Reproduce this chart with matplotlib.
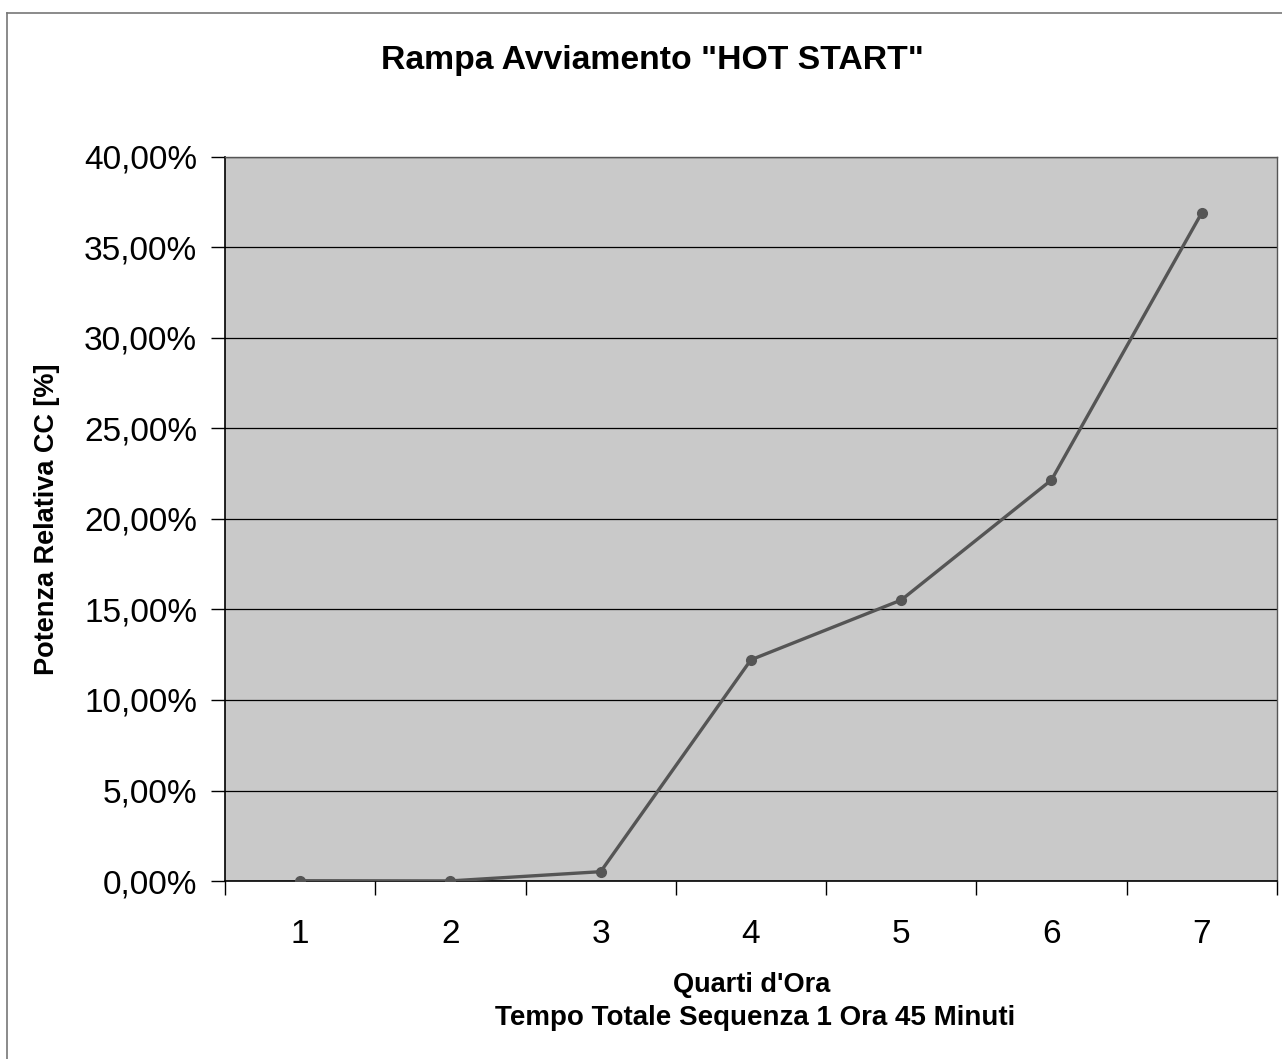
#!/usr/bin/env python3
"""
Rampa avviamento HOT START - potenza relativa per quarto d'ora
"""

import matplotlib
matplotlib.use("Agg")
import matplotlib.pyplot as plt
from matplotlib.lines import Line2D
from matplotlib.ticker import FuncFormatter, FixedLocator

# Dati
quarti = [1, 2, 3, 4, 5, 6, 7]
potenza = [0.0002, 0.0001, 0.0052, 0.1222, 0.1552, 0.2215, 0.3690]
y_ticks = [0.0, 0.05, 0.10, 0.15, 0.20, 0.25, 0.30, 0.35, 0.40]

plt.rcParams['font.family'] = ['Liberation Sans', 'DejaVu Sans']

fig = plt.figure(figsize=(12.82, 10.59), dpi=100)
fig.patch.set_facecolor('white')

ax = fig.add_axes([0.1755, 0.168, 0.8205, 0.684])
ax.set_facecolor('#c9c9c9')

ax.plot(quarti, potenza, '-', color='#555555', linewidth=2.4,
        marker='o', markersize=7, markerfacecolor='#555555',
        markeredgecolor='#555555', zorder=3)

# Assi
ax.set_xlim(0.5, 7.5)
ax.set_ylim(0, 0.40)
ax.set_yticks(y_ticks)
ax.yaxis.set_major_formatter(FuncFormatter(lambda v, p: f"{v*100:.2f}%".replace('.', ',')))
ax.set_xticks(quarti)
ax.set_xticklabels([str(q) for q in quarti])
ax.xaxis.set_minor_locator(FixedLocator([q + 0.5 for q in range(0, 8)]))

ax.tick_params(axis='y', which='major', direction='out', length=10, width=1,
               labelsize=24, pad=10, color='black')
ax.tick_params(axis='x', which='major', length=0, labelsize=24, pad=27)
ax.tick_params(axis='x', which='minor', direction='out', length=10, width=1, color='black')

ax.grid(True, axis='y', color='black', linewidth=0.9, zorder=1)
ax.set_axisbelow(True)

for side in ['left', 'bottom']:
    ax.spines[side].set_color('black')
    ax.spines[side].set_linewidth(1.2)
for side in ['top', 'right']:
    ax.spines[side].set_color('#555555')
    ax.spines[side].set_linewidth(1.0)

# Testi
fig.text(0.5086, 0.9433, 'Rampa Avviamento "HOT START"', ha='center', va='center',
         fontsize=24.3, fontweight='bold')
fig.text(0.586, 0.0699, "Quarti d'Ora", ha='center', va='center',
         fontsize=19.5, fontweight='bold')
fig.text(0.589, 0.0387, "Tempo Totale Sequenza 1 Ora 45 Minuti", ha='center', va='center',
         fontsize=20, fontweight='bold')
fig.text(0.037, 0.51, "Potenza Relativa CC [%]", ha='center', va='center',
         rotation=90, fontsize=19.5, fontweight='bold')

# Cornice esterna (solo lato sinistro e superiore visibili)
bx = 7 / 1282
by = 1 - 13 / 1059
fig.add_artist(Line2D([bx, bx], [0, by], transform=fig.transFigure,
                      color='#777777', linewidth=1.2))
fig.add_artist(Line2D([bx, 1], [by, by], transform=fig.transFigure,
                      color='#777777', linewidth=1.2))

fig.savefig('out.png', dpi=100)
